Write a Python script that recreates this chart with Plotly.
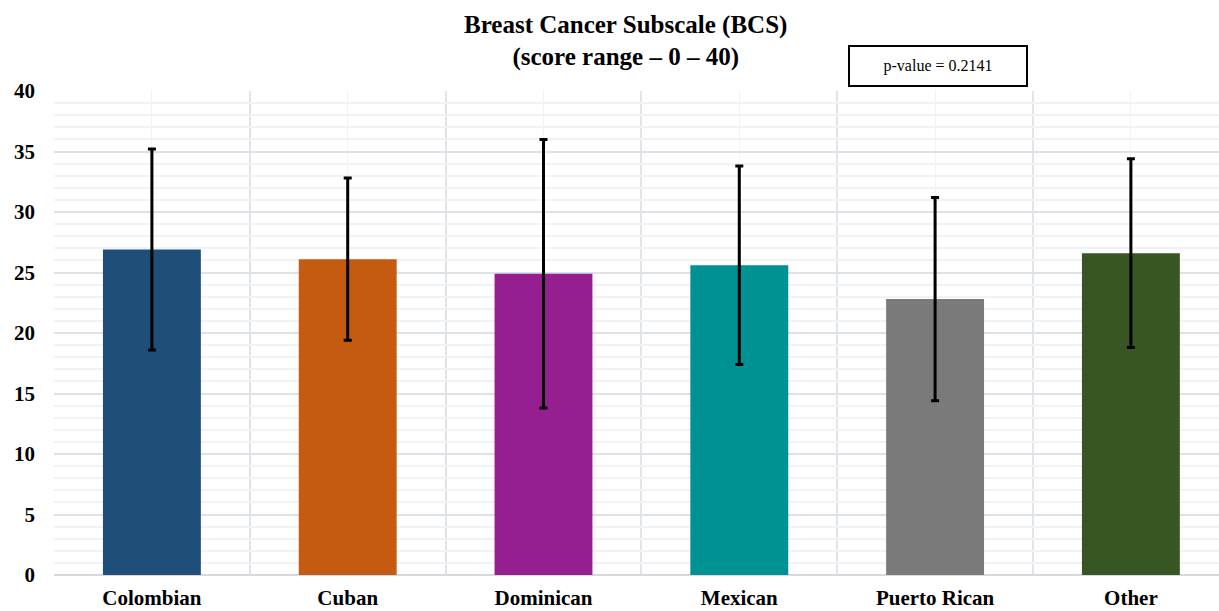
import plotly.graph_objects as go

# Mean BCS score and standard deviation by group
groups = ["Colombian", "Cuban", "Dominican", "Mexican", "Puerto Rican", "Other"]
means = [26.9, 26.1, 24.9, 25.6, 22.8, 26.6]
sds = [8.3, 6.7, 11.1, 8.2, 8.4, 7.8]
colors = ["#1F4E79", "#C55A11", "#951F91", "#009292", "#7A7A7A", "#375623"]
title_text = "<b>Breast Cancer Subscale (BCS)<br>(score range – 0 – 40)</b>"
p_value_text = "p-value = 0.2141"

serif = "Liberation Serif, Times New Roman, serif"

# plot area geometry in pixels
W, H = 1219, 611
ML, MR, MT, MB = 54, 0, 91, 36
plot_w = W - ML - MR
plot_h = H - MT - MB


def px_to_paper(px, py):
    return (px - ML) / plot_w, (H - MB - py) / plot_h


x_pos = list(range(len(groups)))

fig = go.Figure(
    go.Bar(
        x=x_pos,
        y=means,
        width=0.5,
        marker=dict(color=colors, line=dict(width=0)),
        error_y=dict(type="data", array=sds, visible=True,
                     color="#000000", thickness=3, width=4),
        hoverinfo="skip",
    )
)

tx, ty = px_to_paper(625, 41)
bx, by = px_to_paper(938, 66)

fig.update_layout(
    width=W,
    height=H,
    margin=dict(l=ML, r=MR, t=MT, b=MB, autoexpand=False),
    paper_bgcolor="white",
    plot_bgcolor="white",
    showlegend=False,
    font=dict(family=serif, color="#000000"),
    annotations=[
        dict(
            text=title_text, xref="paper", yref="paper",
            x=tx, y=ty, xanchor="center", yanchor="middle", showarrow=False,
            font=dict(family=serif, size=25, color="#000000"),
            height=60, valign="middle",
        ),
        dict(
            text=p_value_text, xref="paper", yref="paper",
            x=bx, y=by, xanchor="center", yanchor="middle", showarrow=False,
            font=dict(family=serif, size=16, color="#000000"),
            bordercolor="#000000", borderwidth=2, borderpad=10,
            bgcolor="white", width=156, height=18,
        ),
    ],
)

fig.update_xaxes(
    automargin=False,
    range=[-0.5, 5.45],
    tickmode="array",
    tickvals=x_pos,
    ticktext=[f"<b>{g}</b>" for g in groups],
    tickfont=dict(family=serif, size=21, color="#000000"),
    ticks="",
    ticklabelstandoff=8,
    showgrid=True,
    gridcolor="#F2F3F5",
    gridwidth=1,
    minor=dict(tick0=0.5, dtick=1, showgrid=True, gridcolor="#E1E4E9", gridwidth=1.5),
    showline=False,
    zeroline=False,
    fixedrange=True,
)

fig.update_yaxes(
    automargin=False,
    range=[0, 40],
    tickmode="linear",
    tick0=0,
    dtick=5,
    tickfont=dict(family=serif, size=21, color="#000000"),
    tickprefix="<b>",
    ticksuffix="</b>",
    ticks="",
    ticklabelstandoff=18,
    showgrid=True,
    gridcolor="#DDE1E8",
    gridwidth=1.5,
    minor=dict(dtick=1, showgrid=True, gridcolor="#F1F2F4", gridwidth=1.5),
    showline=False,
    zeroline=True,
    zerolinecolor="#D6DAE0",
    zerolinewidth=1.5,
    fixedrange=True,
)

fig.write_html("out.html")
